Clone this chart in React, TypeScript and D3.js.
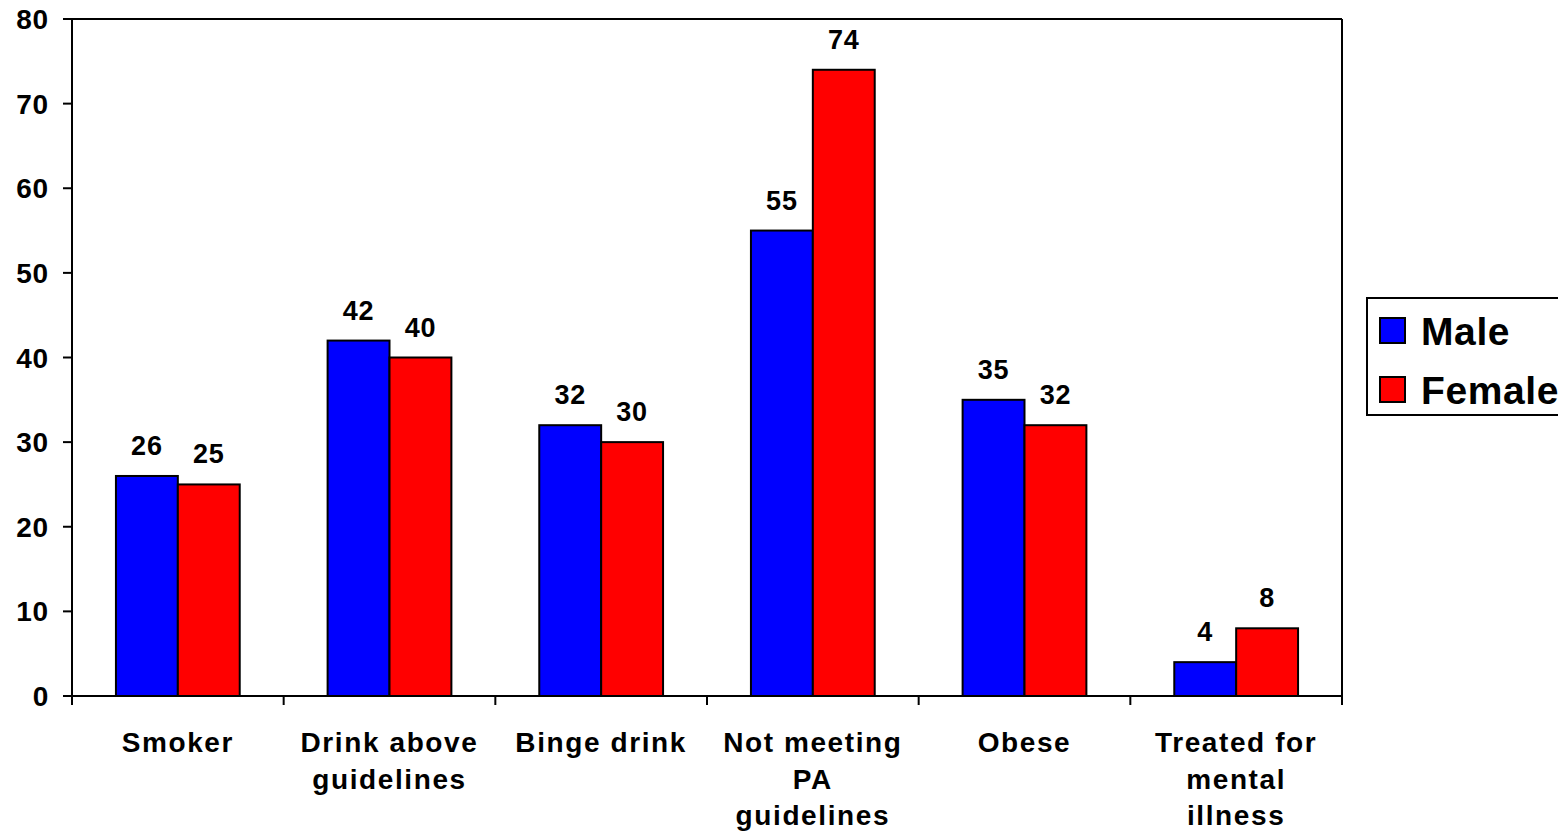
import React from "react";
import * as d3 from "d3";

const categories = [
  "Smoker",
  "Drink above guidelines",
  "Binge drink",
  "Not meeting PA guidelines",
  "Obese",
  "Treated for mental illness",
];
// how each category label wraps
const labelLines = [
  ["Smoker"],
  ["Drink above", "guidelines"],
  ["Binge drink"],
  ["Not meeting", "PA", "guidelines"],
  ["Obese"],
  ["Treated for", "mental", "illness"],
];
const series = ["Male", "Female"];
const male = [26, 42, 32, 55, 35, 4];
const female = [25, 40, 30, 74, 32, 8];
const yTicks = [0, 10, 20, 30, 40, 50, 60, 70, 80];
const colors = ["#0000ff", "#ff0000"];

const width = 1558;
const height = 835;
const margin = { top: 19, right: 216, bottom: 139, left: 72 };
const font = "'Liberation Sans', Arial, sans-serif";

export default function App() {
  const x = d3
    .scaleBand()
    .domain(categories)
    .range([margin.left, width - margin.right])
    .padding(0);

  const xs = d3
    .scaleBand()
    .domain(series)
    .range([0, x.bandwidth()])
    .paddingInner(0)
    .paddingOuter(0.71);

  const y = d3
    .scaleLinear()
    .domain([0, 80])
    .range([height - margin.bottom, margin.top]);

  const values = [male, female];
  const x0 = margin.left;
  const x1 = width - margin.right;
  const y0 = y(0);
  const y1 = y(80);
  const boundaries = d3.range(categories.length + 1).map((i) =>
    i < categories.length ? (x(categories[i]) as number) : x1
  );

  return (
    <div style={{ position: "absolute", left: 0, top: 0 }}>
      <svg width={width} height={height} style={{ display: "block" }}>
        <rect x={0} y={0} width={width} height={height} fill="#fff" />

        {/* frame: top + right */}
        <line x1={x0} x2={x1} y1={y1} y2={y1} stroke="#000" strokeWidth={2} />
        <line x1={x1} x2={x1} y1={y1} y2={y0} stroke="#000" strokeWidth={2} />

        {/* bars */}
        {categories.map((c, i) => (
          <g key={c}>
            {series.map((s, j) => {
              const v = values[j][i];
              const bx = (x(c) as number) + (xs(s) as number);
              return (
                <g key={s}>
                  <rect
                    x={bx}
                    y={y(v)}
                    width={xs.bandwidth()}
                    height={y0 - y(v)}
                    fill={colors[j]}
                    stroke="#000"
                    strokeWidth={2}
                  />
                  <text
                    x={bx + xs.bandwidth() / 2}
                    y={y(v) - 21}
                    textAnchor="middle"
                    fontFamily={font}
                    fontWeight="bold"
                    fontSize={27}
                    letterSpacing={0.8}
                  >
                    {v}
                  </text>
                </g>
              );
            })}
          </g>
        ))}

        {/* y axis */}
        <line x1={x0} x2={x0} y1={y1} y2={y0 + 9} stroke="#000" strokeWidth={2} />
        {yTicks.map((t) => (
          <g key={t}>
            <line x1={x0 - 9} x2={x0} y1={y(t)} y2={y(t)} stroke="#000" strokeWidth={2} />
            <text
              x={49}
              y={y(t) + 10}
              textAnchor="end"
              fontFamily={font}
              fontWeight="bold"
              fontSize={28}
              letterSpacing={0.8}
            >
              {t}
            </text>
          </g>
        ))}

        {/* x axis */}
        <line x1={x0 - 9} x2={x1} y1={y0} y2={y0} stroke="#000" strokeWidth={2} />
        {boundaries.map((b, i) => (
          <line key={i} x1={b} x2={b} y1={y0} y2={y0 + 9} stroke="#000" strokeWidth={2} />
        ))}
        {categories.map((c, i) => (
          <text
            key={c}
            x={(x(c) as number) + x.bandwidth() / 2}
            textAnchor="middle"
            fontFamily={font}
            fontWeight="bold"
            fontSize={28}
            letterSpacing={1.6}
          >
            {labelLines[i].map((l, k) => (
              <tspan key={k} x={(x(c) as number) + x.bandwidth() / 2} y={752 + k * 36.5}>
                {l}
              </tspan>
            ))}
          </text>
        ))}

        {/* legend */}
        <rect x={1367} y={298} width={200} height={117} fill="#fff" stroke="#000" strokeWidth={2} />
        {series.map((s, j) => (
          <g key={s}>
            <rect
              x={1380}
              y={318 + j * 59}
              width={25}
              height={25}
              fill={colors[j]}
              stroke="#000"
              strokeWidth={2}
            />
            <text
              x={1421}
              y={345 + j * 59}
              fontFamily={font}
              fontWeight="bold"
              fontSize={39}
              letterSpacing={0.6}
            >
              {s}
            </text>
          </g>
        ))}
      </svg>
    </div>
  );
}
